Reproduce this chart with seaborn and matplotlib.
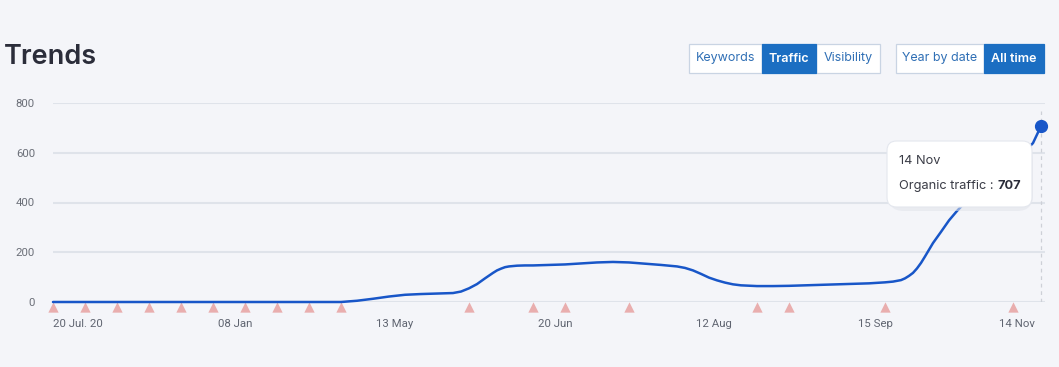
import matplotlib.pyplot as plt
import pandas as pd
import seaborn as sns
from matplotlib.patches import FancyBboxPatch, Rectangle
from matplotlib.transforms import blended_transform_factory

# week position (0 = 20 Jul. 20) and organic traffic
weeks = [0, 9, 9.5, 10, 10.5, 11, 11.5, 12, 12.5, 12.75, 13, 13.25, 13.5, 13.75,
         13.875, 14, 14.125, 14.25, 14.5, 14.75, 15, 15.5, 16, 16.5, 17, 17.5, 18,
         18.5, 19, 19.5, 19.75, 20, 20.25, 20.5, 20.75, 21, 21.25, 21.5, 22,
         22.5, 23, 23.5, 24, 24.5, 25, 25.5, 26, 26.25, 26.5, 26.625, 26.75,
         26.875, 27, 27.125, 27.25, 27.375, 27.5, 27.75, 28, 28.25, 28.5, 29,
         29.5, 30, 30.375, 30.625, 30.875]
traffic = [0, 0, 5, 13, 22, 29, 32, 34, 36, 42, 55, 72, 95, 117,
           127, 134, 140, 143, 146, 147, 147, 149, 151, 155, 159, 161, 159,
           154, 149, 143, 137, 127, 113, 98, 87, 78, 71, 67, 64,
           64, 65, 67, 69, 71, 73, 75, 79, 82, 88, 95, 105,
           117, 135, 157, 183, 210, 237, 282, 328, 366, 400, 460,
           515, 565, 605, 639, 707]

# pink markers under the axis (annotations)
event_weeks = [0, 1, 2, 3, 4, 5, 6, 7, 8, 9, 13, 15, 16, 18, 22, 23, 26, 30]

tick_pos = [0, 5.69, 10.69, 15.69, 20.66, 25.69, 30.125]
tick_labels = ["20 Jul. 20", "08 Jan", "13 May", "20 Jun", "12 Aug", "15 Sep", "14 Nov"]
y_ticks = [0, 200, 400, 600, 800]

hover_label = "14 Nov"
hover_value = 707

BG = "#f4f5f9"
BLUE = "#1856c8"
BTN_BLUE = "#1b6ec2"

sns.set_theme(style="white")
plt.rcParams["font.family"] = ["Roboto", "DejaVu Sans"]

W, H = 1059, 367
fig = plt.figure(figsize=(W / 100, H / 100), dpi=100, facecolor=BG)
ax = fig.add_axes([53 / W, (H - 302) / H, 992 / W, 199 / H], facecolor=BG)

df = pd.DataFrame({"week": weeks, "traffic": traffic})
sns.lineplot(data=df, x="week", y="traffic", color=BLUE, linewidth=1.8, ax=ax,
             zorder=3, clip_on=False)

# last point highlight
ax.plot(weeks[-1], traffic[-1], "o", color=BLUE, markersize=8.5, zorder=4, clip_on=False)
ax.axvline(weeks[-1], ymax=0.96, color="#cdd0d7", linestyle=(0, (3, 3)),
           linewidth=0.9, zorder=1)

# event triangles just under the axis
trans = blended_transform_factory(ax.transData, ax.transAxes)
ax.scatter(event_weeks, [-0.026] * len(event_weeks), marker="^", s=55,
           color="#e9aeae", transform=trans, clip_on=False, zorder=2, linewidths=0)

ax.set_xlim(0, 31)
ax.set_ylim(0, 800)
ax.set_yticks(y_ticks)
ax.set_yticklabels([str(v) for v in y_ticks])
ax.set_xticks(tick_pos)
ax.set_xticklabels(tick_labels)
ax.set_xlabel("")
ax.set_ylabel("")
ax.tick_params(axis="y", length=0, pad=13, labelsize=8.2, labelcolor="#6b6f78")
ax.tick_params(axis="x", length=0, pad=12, labelsize=8.2, labelcolor="#5f6470")
first = ax.get_xticklabels()[0]
first.set_horizontalalignment("left")
ax.grid(axis="y", color="#dfe3ea", linewidth=1.5)
ax.grid(axis="x", visible=False)
sns.despine(ax=ax, left=True, bottom=True, top=True, right=True)

# title
fig.text(4 / W, (H - 64) / H, "Trends", fontsize=19.5, fontweight="semibold",
         color="#2b2d3a", family=["Inter", "DejaVu Sans"], va="baseline")


def button(x0, x1, label, active):
    y0, y1 = 44, 73
    rect = Rectangle((x0 / W, (H - y1) / H), (x1 - x0) / W, (y1 - y0) / H,
                     transform=fig.transFigure,
                     facecolor=BTN_BLUE if active else "white",
                     edgecolor=BTN_BLUE if active else "#c9d4e3", linewidth=0.9)
    fig.patches.append(rect)
    fig.text((x0 + x1) / 2 / W, (H - 58.5) / H, label, ha="center", va="center",
             fontsize=9, color="white" if active else "#2f6fb5",
             fontweight="semibold" if active else "normal",
             family=["Inter", "DejaVu Sans"])


button(689, 762, "Keywords", False)
button(816, 880, "Visibility", False)
button(762, 816, "Traffic", True)
button(896, 984, "Year by date", False)
button(984, 1044, "All time", True)

# tooltip
shadow = FancyBboxPatch((888 / W, (H - 211) / H), 145 / W, 66 / H,
                        boxstyle="round,pad=0,rounding_size=0.015",
                        transform=fig.transFigure, facecolor="#e0e3ea",
                        edgecolor="none", alpha=0.55, mutation_aspect=W / H)
box = FancyBboxPatch((887 / W, (H - 207) / H), 145 / W, 66 / H,
                     boxstyle="round,pad=0,rounding_size=0.009",
                     transform=fig.transFigure, facecolor="white",
                     edgecolor="#e4e7ee", linewidth=0.8, mutation_aspect=W / H)
fig.patches.append(shadow)
fig.patches.append(box)
fig.text(899 / W, (H - 161) / H, hover_label, fontsize=9.2, color="#3a3c46",
         va="center", family=["Inter", "DejaVu Sans"])
fig.text(899 / W, (H - 186) / H, "Organic traffic : ", fontsize=9.2, color="#3a3c46",
         va="center", family=["Inter", "DejaVu Sans"])
fig.text(998 / W, (H - 186) / H, str(hover_value), fontsize=9.2, color="#2b2d3a",
         va="center", fontweight="bold", family=["Inter", "DejaVu Sans"])

fig.savefig("out.png", dpi=100, facecolor=BG)
